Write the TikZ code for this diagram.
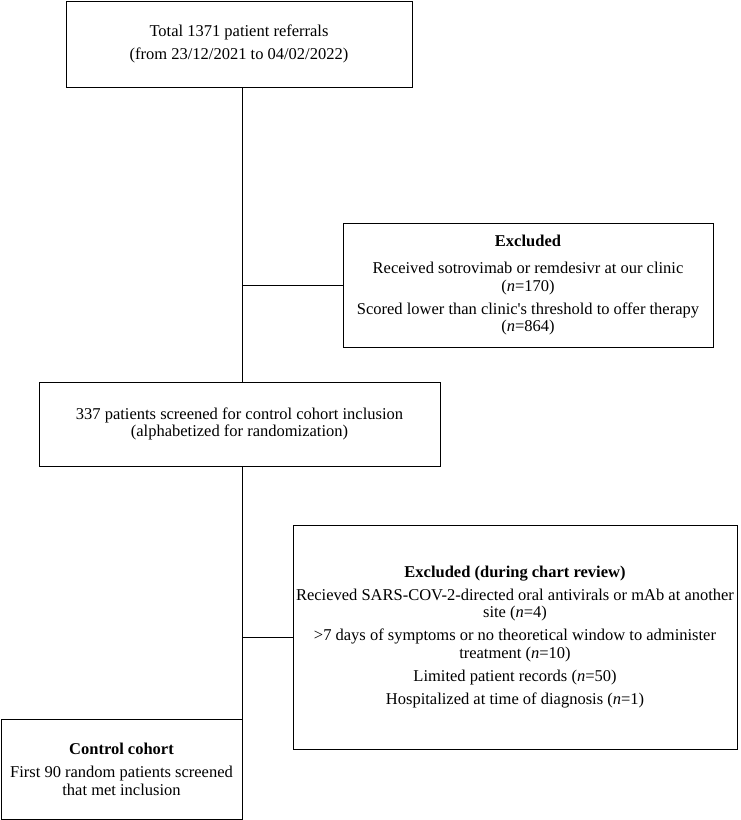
\documentclass[tikz,border=0pt]{standalone}
\usepackage{fontspec}
\setmainfont{Liberation Serif}
\begin{document}
\begin{tikzpicture}[x=1pt,y=-1pt,
  box/.style={draw, line width=0.9pt, inner sep=0pt, align=center, font=\fontsize{16.5}{17.5}\selectfont},
  conn/.style={line width=0.9pt}]
\useasboundingbox (0,0) rectangle (740,820);
\node[box, minimum width=346, minimum height=86] (top) at (239,44)
  {Total 1371 patient referrals\\[5.5pt](from 23/12/2021 to 04/02/2022)};
\node[box, minimum width=370, minimum height=124] (ex1) at (528,285)
  {\textbf{Excluded}\\[10pt]Received sotrovimab or remdesivr at our clinic\\(\textit{n}=170)\\[5.5pt]Scored lower than clinic\textquotesingle s threshold to offer therapy\\(\textit{n}=864)};
\node[box, minimum width=401, minimum height=84] (scr) at (239.5,424)
  {337 patients screened for control cohort inclusion\\(alphabetized for randomization)};
\node[box, minimum width=444, minimum height=224] (ex2) at (515,637)
  {\textbf{Excluded (during chart review)}\\[5.5pt]Recieved SARS-COV-2-directed oral antivirals or mAb at another\\site (\textit{n}=4)\\[5.5pt]>7 days of symptoms or no theoretical window to administer\\treatment (\textit{n}=10)\\[5.5pt]Limited patient records (\textit{n}=50)\\[5.5pt]Hospitalized at time of diagnosis (\textit{n}=1)};
\node[box, minimum width=241, minimum height=100] (ctl) at (121.5,769)
  {\textbf{Control cohort}\\[6pt]First 90 random patients screened\\that met inclusion};
\draw[conn] (top.south -| ctl.east) -- (scr.north -| ctl.east);
\draw[conn] (scr.south -| ctl.east) -- (ctl.north east);
\draw[conn] (ex1.west -| ctl.east) -- (ex1.west);
\draw[conn] (ex2.west -| ctl.east) -- (ex2.west);
\end{tikzpicture}
\end{document}
